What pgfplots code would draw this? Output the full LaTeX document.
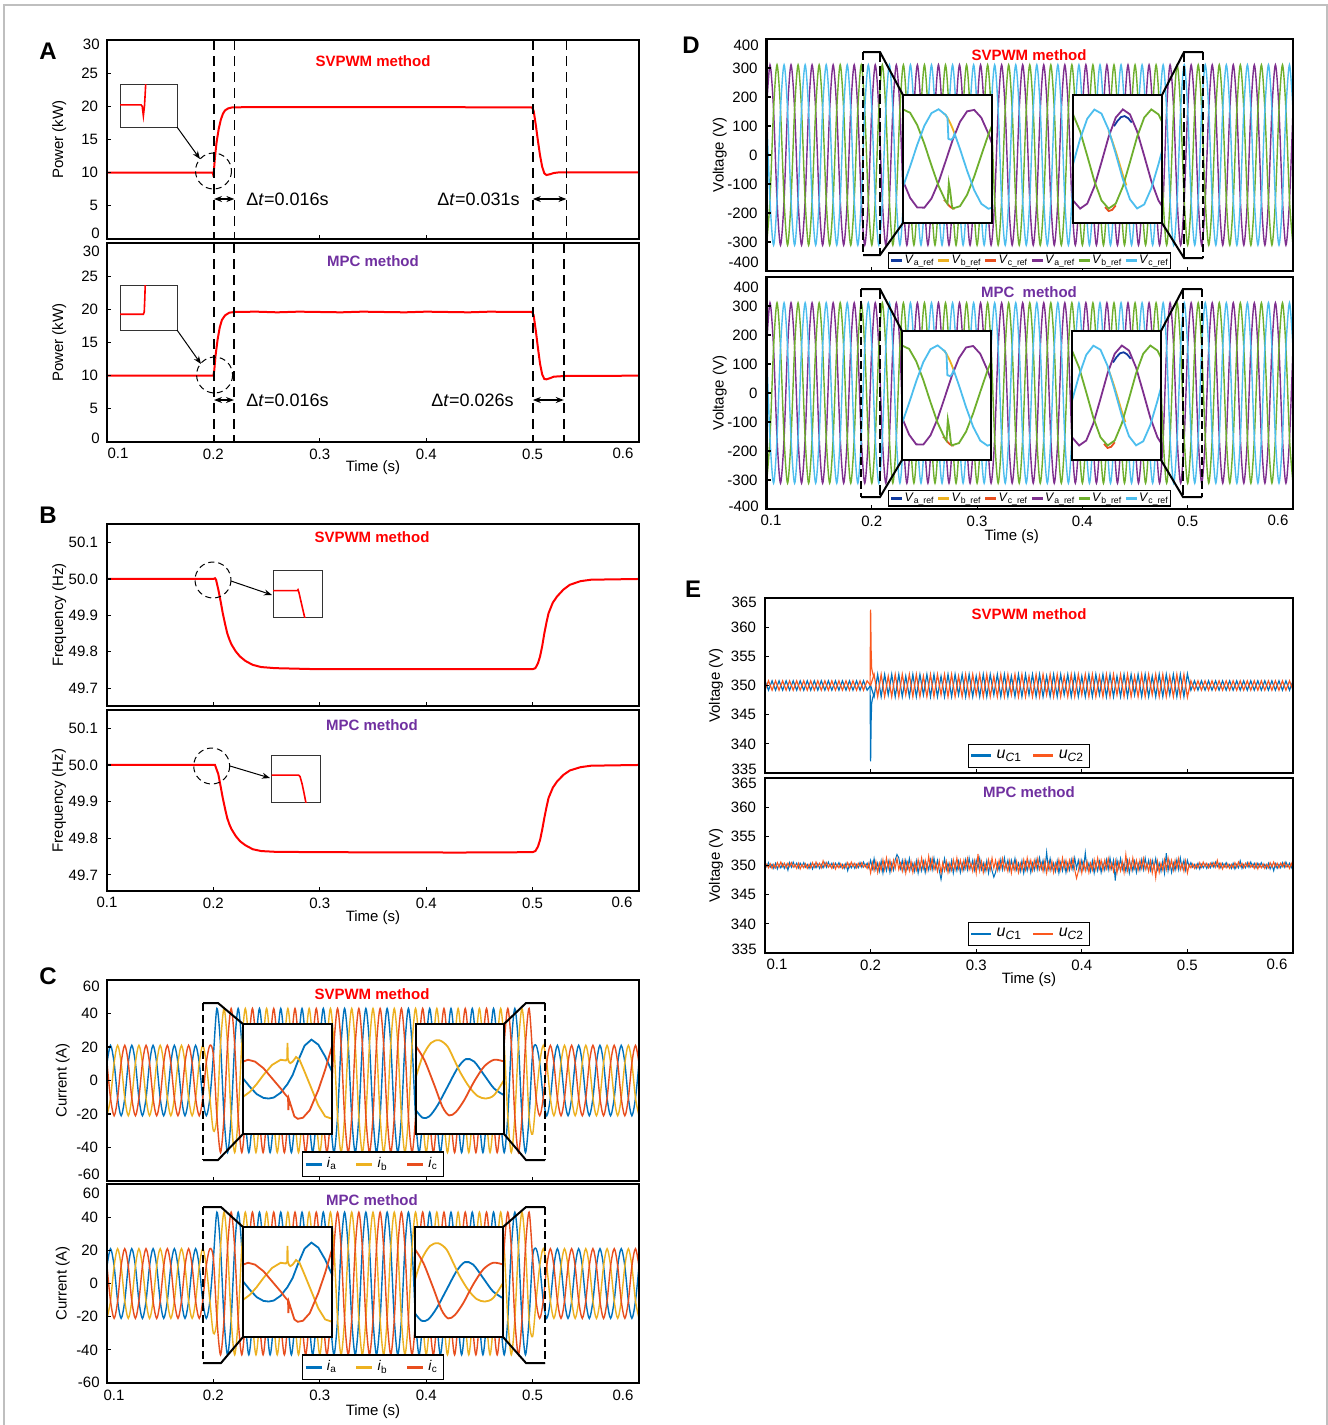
\documentclass[border=0pt]{standalone}
\usepackage{fontspec}
\setmainfont{Liberation Sans}
\usepackage{pgfplots}
\usepackage{pgfplotstable}
\pgfplotsset{compat=1.18}
\usetikzlibrary{arrows.meta}

\definecolor{ca}{RGB}{0,114,189}
\definecolor{cb}{RGB}{237,177,32}
\definecolor{cc}{RGB}{232,78,30}
\definecolor{vdb}{RGB}{16,58,160}
\definecolor{vpu}{RGB}{126,47,142}
\definecolor{vgr}{RGB}{110,175,45}
\definecolor{vcy}{RGB}{77,190,238}
\definecolor{eor}{RGB}{250,88,30}
\definecolor{mpc}{RGB}{112,48,160}

\newcommand\tk{\fontsize{7.5}{9}\selectfont}

% t: time, ia..ic currents (C), va..vc voltages (D), e1 e2 capacitor voltages SVPWM (E)
\pgfplotstableread{
t ia ib ic va vb vc e1 e2
0.1000 10.5 -21 10.5 156 -311 156 350.8 349.2
0.1033 21 -10.5 -10.5 311 -156 -156 349.2 350.8
0.1067 10.5 10.5 -21 156 156 -311 350.8 349.2
0.1100 -10.5 21 -10.5 -156 311 -156 349.2 350.8
0.1133 -21 10.5 10.5 -311 156 156 350.8 349.2
0.1167 -10.5 -10.5 21 -156 -156 311 349.2 350.8
0.1200 10.5 -21 10.5 156 -311 156 350.8 349.2
0.1233 21 -10.5 -10.5 311 -156 -156 349.2 350.8
0.1267 10.5 10.5 -21 156 156 -311 350.8 349.2
0.1300 -10.5 21 -10.5 -156 311 -156 349.2 350.8
0.1333 -21 10.5 10.5 -311 156 156 350.8 349.2
0.1367 -10.5 -10.5 21 -156 -156 311 349.2 350.8
0.1400 10.5 -21 10.5 156 -311 156 350.8 349.2
0.1433 21 -10.5 -10.5 311 -156 -156 349.2 350.8
0.1467 10.5 10.5 -21 156 156 -311 350.8 349.2
0.1500 -10.5 21 -10.5 -156 311 -156 349.2 350.8
0.1533 -21 10.5 10.5 -311 156 156 350.8 349.2
0.1567 -10.5 -10.5 21 -156 -156 311 349.2 350.8
0.1600 10.5 -21 10.5 156 -311 156 350.8 349.2
0.1633 21 -10.5 -10.5 311 -156 -156 349.2 350.8
0.1667 10.5 10.5 -21 156 156 -311 350.8 349.2
0.1700 -10.5 21 -10.5 -156 311 -156 349.2 350.8
0.1733 -21 10.5 10.5 -311 156 156 350.8 349.2
0.1767 -10.5 -10.5 21 -156 -156 311 349.2 350.8
0.1800 10.5 -21 10.5 156 -311 156 350.8 349.2
0.1833 21 -10.5 -10.5 311 -156 -156 349.2 350.8
0.1867 10.5 10.5 -21 156 156 -311 350.8 349.2
0.1900 -10.5 21 -10.5 -156 311 -156 349.2 350.8
0.1933 -21 10.5 10.5 -311 156 156 350.8 349.2
0.1967 -10.5 -10.5 21 -156 -156 311 349.2 350.8
0.2000 15 -30 15 156 -311 156 350 350
0.2033 43 -21.5 -21.5 311 -156 -156 348.1 351.9
0.2067 21.5 21.5 -43 156 156 -311 351.9 348.1
0.2100 -21.5 43 -21.5 -156 311 -156 348.1 351.9
0.2133 -43 21.5 21.5 -311 156 156 351.9 348.1
0.2167 -21.5 -21.5 43 -156 -156 311 348.4 351.6
0.2200 21.5 -43 21.5 156 -311 156 351.9 348.1
0.2233 43 -21.5 -21.5 311 -156 -156 348.1 351.9
0.2267 21.5 21.5 -43 156 156 -311 351.9 348.1
0.2300 -21.5 43 -21.5 -156 311 -156 348.1 351.9
0.2333 -43 21.5 21.5 -311 156 156 351.6 348.4
0.2367 -21.5 -21.5 43 -156 -156 311 348.1 351.9
0.2400 21.5 -43 21.5 156 -311 156 351.9 348.1
0.2433 43 -21.5 -21.5 311 -156 -156 348.1 351.9
0.2467 21.5 21.5 -43 156 156 -311 351.9 348.1
0.2500 -21.5 43 -21.5 -156 311 -156 348.4 351.6
0.2533 -43 21.5 21.5 -311 156 156 351.9 348.1
0.2567 -21.5 -21.5 43 -156 -156 311 348.1 351.9
0.2600 21.5 -43 21.5 156 -311 156 351.9 348.1
0.2633 43 -21.5 -21.5 311 -156 -156 348.1 351.9
0.2667 21.5 21.5 -43 156 156 -311 351.6 348.4
0.2700 -21.5 43 -21.5 -156 311 -156 348.1 351.9
0.2733 -43 21.5 21.5 -311 156 156 351.9 348.1
0.2767 -21.5 -21.5 43 -156 -156 311 348.1 351.9
0.2800 21.5 -43 21.5 156 -311 156 351.9 348.1
0.2833 43 -21.5 -21.5 311 -156 -156 348.4 351.6
0.2867 21.5 21.5 -43 156 156 -311 351.9 348.1
0.2900 -21.5 43 -21.5 -156 311 -156 348.1 351.9
0.2933 -43 21.5 21.5 -311 156 156 351.9 348.1
0.2967 -21.5 -21.5 43 -156 -156 311 348.1 351.9
0.3000 21.5 -43 21.5 156 -311 156 351.6 348.4
0.3033 43 -21.5 -21.5 311 -156 -156 348.1 351.9
0.3067 21.5 21.5 -43 156 156 -311 351.9 348.1
0.3100 -21.5 43 -21.5 -156 311 -156 348.1 351.9
0.3133 -43 21.5 21.5 -311 156 156 351.9 348.1
0.3167 -21.5 -21.5 43 -156 -156 311 348.4 351.6
0.3200 21.5 -43 21.5 156 -311 156 351.9 348.1
0.3233 43 -21.5 -21.5 311 -156 -156 348.1 351.9
0.3267 21.5 21.5 -43 156 156 -311 351.9 348.1
0.3300 -21.5 43 -21.5 -156 311 -156 348.1 351.9
0.3333 -43 21.5 21.5 -311 156 156 351.6 348.4
0.3367 -21.5 -21.5 43 -156 -156 311 348.1 351.9
0.3400 21.5 -43 21.5 156 -311 156 351.9 348.1
0.3433 43 -21.5 -21.5 311 -156 -156 348.1 351.9
0.3467 21.5 21.5 -43 156 156 -311 351.9 348.1
0.3500 -21.5 43 -21.5 -156 311 -156 348.4 351.6
0.3533 -43 21.5 21.5 -311 156 156 351.9 348.1
0.3567 -21.5 -21.5 43 -156 -156 311 348.1 351.9
0.3600 21.5 -43 21.5 156 -311 156 351.9 348.1
0.3633 43 -21.5 -21.5 311 -156 -156 348.1 351.9
0.3667 21.5 21.5 -43 156 156 -311 351.6 348.4
0.3700 -21.5 43 -21.5 -156 311 -156 348.1 351.9
0.3733 -43 21.5 21.5 -311 156 156 351.9 348.1
0.3767 -21.5 -21.5 43 -156 -156 311 348.1 351.9
0.3800 21.5 -43 21.5 156 -311 156 351.9 348.1
0.3833 43 -21.5 -21.5 311 -156 -156 348.4 351.6
0.3867 21.5 21.5 -43 156 156 -311 351.9 348.1
0.3900 -21.5 43 -21.5 -156 311 -156 348.1 351.9
0.3933 -43 21.5 21.5 -311 156 156 351.9 348.1
0.3967 -21.5 -21.5 43 -156 -156 311 348.1 351.9
0.4000 21.5 -43 21.5 156 -311 156 351.6 348.4
0.4033 43 -21.5 -21.5 311 -156 -156 348.1 351.9
0.4067 21.5 21.5 -43 156 156 -311 351.9 348.1
0.4100 -21.5 43 -21.5 -156 311 -156 348.1 351.9
0.4133 -43 21.5 21.5 -311 156 156 351.9 348.1
0.4167 -21.5 -21.5 43 -156 -156 311 348.4 351.6
0.4200 21.5 -43 21.5 156 -311 156 351.9 348.1
0.4233 43 -21.5 -21.5 311 -156 -156 348.1 351.9
0.4267 21.5 21.5 -43 156 156 -311 351.9 348.1
0.4300 -21.5 43 -21.5 -156 311 -156 348.1 351.9
0.4333 -43 21.5 21.5 -311 156 156 351.6 348.4
0.4367 -21.5 -21.5 43 -156 -156 311 348.1 351.9
0.4400 21.5 -43 21.5 156 -311 156 351.9 348.1
0.4433 43 -21.5 -21.5 311 -156 -156 348.1 351.9
0.4467 21.5 21.5 -43 156 156 -311 351.9 348.1
0.4500 -21.5 43 -21.5 -156 311 -156 348.4 351.6
0.4533 -43 21.5 21.5 -311 156 156 351.9 348.1
0.4567 -21.5 -21.5 43 -156 -156 311 348.1 351.9
0.4600 21.5 -43 21.5 156 -311 156 351.9 348.1
0.4633 43 -21.5 -21.5 311 -156 -156 348.1 351.9
0.4667 21.5 21.5 -43 156 156 -311 351.6 348.4
0.4700 -21.5 43 -21.5 -156 311 -156 348.1 351.9
0.4733 -43 21.5 21.5 -311 156 156 351.9 348.1
0.4767 -21.5 -21.5 43 -156 -156 311 348.1 351.9
0.4800 21.5 -43 21.5 156 -311 156 351.9 348.1
0.4833 43 -21.5 -21.5 311 -156 -156 348.4 351.6
0.4867 21.5 21.5 -43 156 156 -311 351.9 348.1
0.4900 -21.5 43 -21.5 -156 311 -156 348.1 351.9
0.4933 -43 21.5 21.5 -311 156 156 351.9 348.1
0.4967 -21.5 -21.5 43 -156 -156 311 348.1 351.9
0.5000 16 -32 16 156 -311 156 352.0 348.0
0.5033 21 -10.5 -10.5 311 -156 -156 349.2 350.8
0.5067 10.5 10.5 -21 156 156 -311 350.8 349.2
0.5100 -10.5 21 -10.5 -156 311 -156 349.2 350.8
0.5133 -21 10.5 10.5 -311 156 156 350.8 349.2
0.5167 -10.5 -10.5 21 -156 -156 311 349.2 350.8
0.5200 10.5 -21 10.5 156 -311 156 350.8 349.2
0.5233 21 -10.5 -10.5 311 -156 -156 349.2 350.8
0.5267 10.5 10.5 -21 156 156 -311 350.8 349.2
0.5300 -10.5 21 -10.5 -156 311 -156 349.2 350.8
0.5333 -21 10.5 10.5 -311 156 156 350.8 349.2
0.5367 -10.5 -10.5 21 -156 -156 311 349.2 350.8
0.5400 10.5 -21 10.5 156 -311 156 350.8 349.2
0.5433 21 -10.5 -10.5 311 -156 -156 349.2 350.8
0.5467 10.5 10.5 -21 156 156 -311 350.8 349.2
0.5500 -10.5 21 -10.5 -156 311 -156 349.2 350.8
0.5533 -21 10.5 10.5 -311 156 156 350.8 349.2
0.5567 -10.5 -10.5 21 -156 -156 311 349.2 350.8
0.5600 10.5 -21 10.5 156 -311 156 350.8 349.2
0.5633 21 -10.5 -10.5 311 -156 -156 349.2 350.8
0.5667 10.5 10.5 -21 156 156 -311 350.8 349.2
0.5700 -10.5 21 -10.5 -156 311 -156 349.2 350.8
0.5733 -21 10.5 10.5 -311 156 156 350.8 349.2
0.5767 -10.5 -10.5 21 -156 -156 311 349.2 350.8
0.5800 10.5 -21 10.5 156 -311 156 350.8 349.2
0.5833 21 -10.5 -10.5 311 -156 -156 349.2 350.8
0.5867 10.5 10.5 -21 156 156 -311 350.8 349.2
0.5900 -10.5 21 -10.5 -156 311 -156 349.2 350.8
0.5933 -21 10.5 10.5 -311 156 156 350.8 349.2
0.5967 -10.5 -10.5 21 -156 -156 311 349.2 350.8
0.6000 10.5 -21 10.5 156 -311 156 350.8 349.2
}\wave

% E, MPC: capacitor voltages n1 (uC1) and n2 (uC2)
\pgfplotstableread{
t n1 n2
0.1000 350.4 349.4
0.1017 349.8 350.2
0.1033 350.5 349.6
0.1050 349.7 350.3
0.1067 350.2 349.5
0.1083 349.5 350.2
0.1100 350.4 349.6
0.1117 349.4 350.5
0.1133 350.2 349.7
0.1150 349.6 350.6
0.1167 350.3 349.8
0.1183 349.5 350.4
0.1200 350.2 349.6
0.1217 349.2 350.4
0.1233 350.5 349.8
0.1250 349.7 350.5
0.1267 350.6 349.7
0.1283 349.8 350.2
0.1300 350.4 349.5
0.1317 349.6 350.4
0.1333 350.4 349.4
0.1350 349.8 350.2
0.1367 350.5 349.6
0.1383 349.7 350.3
0.1400 350.2 349.5
0.1417 349.5 350.2
0.1433 350.4 349.6
0.1450 349.4 350.5
0.1467 350.2 349.7
0.1483 349.6 350.6
0.1500 350.3 349.8
0.1517 349.5 350.4
0.1533 350.2 349.6
0.1550 349.6 350.8
0.1567 350.5 349.8
0.1583 349.7 350.5
0.1600 350.6 349.7
0.1617 349.8 350.2
0.1633 350.4 349.5
0.1650 349.6 350.4
0.1667 350.4 349.4
0.1683 349.8 350.2
0.1700 350.5 349.6
0.1717 349.7 350.3
0.1733 350.2 349.5
0.1750 349.5 350.2
0.1767 350.4 349.6
0.1783 349.1 350.5
0.1800 350.2 349.7
0.1817 349.6 350.6
0.1833 350.3 349.8
0.1850 349.5 350.4
0.1867 350.2 349.6
0.1883 349.6 350.4
0.1900 350.5 349.8
0.1917 349.7 350.5
0.1933 350.6 349.7
0.1950 349.8 350.2
0.1967 350.4 349.5
0.1983 349.6 350.4
0.2000 350.9 348.7
0.2017 349.5 350.5
0.2033 351.2 349.1
0.2050 349.3 350.7
0.2067 350.4 348.8
0.2083 349.0 350.4
0.2100 350.8 349.2
0.2117 348.7 351.0
0.2133 350.5 349.3
0.2150 349.1 351.3
0.2167 350.7 349.5
0.2183 348.8 350.9
0.2200 350.4 349.2
0.2217 349.2 350.9
0.2233 351.0 349.5
0.2250 351.9 351.2
0.2267 351.3 349.3
0.2283 349.5 350.4
0.2300 350.9 349.0
0.2317 349.2 350.8
0.2333 350.9 348.7
0.2350 349.5 350.5
0.2367 351.2 349.1
0.2383 349.3 350.7
0.2400 350.4 348.8
0.2417 349.0 350.4
0.2433 350.8 349.2
0.2450 348.7 351.0
0.2467 350.5 349.3
0.2483 349.1 351.3
0.2500 350.7 349.5
0.2517 348.8 350.9
0.2533 350.4 349.2
0.2550 349.2 351.6
0.2567 351.0 349.5
0.2583 349.3 351.2
0.2600 351.3 349.3
0.2617 349.5 350.4
0.2633 350.9 349.0
0.2650 349.2 350.8
0.2667 347.6 348.7
0.2683 349.5 350.5
0.2700 351.2 349.1
0.2717 349.3 350.7
0.2733 350.4 348.8
0.2750 349.0 350.4
0.2767 350.8 349.2
0.2783 348.7 351.0
0.2800 350.5 349.3
0.2817 349.1 351.3
0.2833 350.7 349.5
0.2850 348.8 350.9
0.2867 350.4 349.2
0.2883 349.2 350.9
0.2900 351.0 349.5
0.2917 349.3 351.2
0.2933 351.3 349.3
0.2950 349.5 350.4
0.2967 350.9 349.0
0.2983 349.2 350.8
0.3000 350.9 348.7
0.3017 349.5 352.0
0.3033 351.2 349.1
0.3050 349.3 350.7
0.3067 350.4 348.8
0.3083 349.0 350.4
0.3100 350.8 349.2
0.3117 348.7 351.0
0.3133 350.5 349.3
0.3150 349.1 351.3
0.3167 348.0 349.5
0.3183 348.8 350.9
0.3200 350.4 349.2
0.3217 349.2 350.9
0.3233 351.0 349.5
0.3250 349.3 351.2
0.3267 351.3 349.3
0.3283 349.5 350.4
0.3300 350.9 349.0
0.3317 349.2 350.8
0.3333 350.9 348.7
0.3350 349.5 350.5
0.3367 351.2 349.1
0.3383 349.3 350.7
0.3400 350.4 348.8
0.3417 349.0 350.4
0.3433 350.8 349.2
0.3450 348.7 351.0
0.3467 350.5 349.3
0.3483 349.1 351.3
0.3500 350.7 349.5
0.3517 348.8 350.9
0.3533 350.4 349.2
0.3550 349.2 350.9
0.3567 351.0 349.5
0.3583 349.3 351.2
0.3600 351.3 349.3
0.3617 349.5 350.4
0.3633 350.9 349.0
0.3650 349.2 350.8
0.3667 352.3 348.7
0.3683 349.5 350.5
0.3700 351.2 349.1
0.3717 349.3 350.7
0.3733 350.4 348.8
0.3750 349.0 350.4
0.3767 350.8 349.2
0.3783 348.7 351.0
0.3800 350.5 349.3
0.3817 349.1 351.3
0.3833 350.7 349.5
0.3850 348.8 350.9
0.3867 350.4 349.2
0.3883 349.2 350.9
0.3900 351.0 349.5
0.3917 349.3 351.2
0.3933 351.3 349.3
0.3950 349.5 347.8
0.3967 350.9 349.0
0.3983 349.2 350.8
0.4000 350.9 348.7
0.4017 349.5 350.5
0.4033 352.2 349.1
0.4050 349.3 350.7
0.4067 350.4 348.8
0.4083 349.0 350.4
0.4100 350.8 349.2
0.4117 348.7 351.0
0.4133 350.5 349.3
0.4150 349.1 351.3
0.4167 350.7 349.5
0.4183 348.8 350.9
0.4200 350.4 349.2
0.4217 349.2 350.9
0.4233 351.0 349.5
0.4250 349.3 351.2
0.4267 351.3 349.3
0.4283 349.5 350.4
0.4300 350.9 349.0
0.4317 347.4 350.8
0.4333 350.9 348.7
0.4350 349.5 350.5
0.4367 351.2 349.1
0.4383 349.3 350.7
0.4400 350.4 348.8
0.4417 349.0 351.9
0.4433 350.8 349.2
0.4450 348.7 351.0
0.4467 350.5 349.3
0.4483 349.1 351.3
0.4500 350.7 349.5
0.4517 348.8 350.9
0.4533 350.4 349.2
0.4550 349.2 350.9
0.4567 351.0 349.5
0.4583 349.3 351.2
0.4600 351.3 349.3
0.4617 349.5 350.4
0.4633 350.9 349.0
0.4650 349.2 350.8
0.4667 350.9 348.7
0.4683 349.5 350.5
0.4700 351.2 347.9
0.4717 349.3 350.7
0.4733 350.4 348.8
0.4750 349.0 350.4
0.4767 350.8 349.2
0.4783 348.7 351.0
0.4800 352.1 349.3
0.4817 349.1 351.3
0.4833 350.7 349.5
0.4850 348.8 350.9
0.4867 350.4 349.2
0.4883 349.2 350.9
0.4900 351.0 349.5
0.4917 349.3 351.2
0.4933 351.3 349.3
0.4950 349.5 350.4
0.4967 350.9 349.0
0.4983 349.2 350.8
0.5000 350.9 348.7
0.5017 349.8 350.2
0.5033 350.5 349.6
0.5050 349.7 350.3
0.5067 350.2 349.5
0.5083 349.5 350.2
0.5100 350.4 349.6
0.5117 349.4 350.5
0.5133 350.2 349.7
0.5150 349.6 350.6
0.5167 350.3 349.8
0.5183 349.5 350.4
0.5200 350.2 349.6
0.5217 349.6 350.4
0.5233 350.5 349.8
0.5250 349.7 350.5
0.5267 350.6 349.7
0.5283 349.8 350.9
0.5300 350.4 349.5
0.5317 349.6 350.4
0.5333 350.4 349.4
0.5350 349.8 350.2
0.5367 350.5 349.6
0.5383 349.7 350.3
0.5400 350.2 349.5
0.5417 349.5 350.2
0.5433 350.4 349.6
0.5450 349.4 350.5
0.5467 350.2 349.7
0.5483 349.6 350.6
0.5500 350.8 349.8
0.5517 349.5 350.4
0.5533 350.2 349.6
0.5550 349.6 350.4
0.5567 350.5 349.8
0.5583 349.7 350.5
0.5600 350.6 349.7
0.5617 349.8 350.2
0.5633 350.4 349.5
0.5650 349.6 350.4
0.5667 350.4 349.4
0.5683 349.8 350.2
0.5700 350.5 349.6
0.5717 349.7 350.3
0.5733 350.2 349.5
0.5750 349.5 350.2
0.5767 350.4 349.6
0.5783 349.4 350.5
0.5800 350.2 349.7
0.5817 349.1 350.6
0.5833 350.3 349.8
0.5850 349.5 350.4
0.5867 350.2 349.6
0.5883 349.6 350.4
0.5900 350.5 349.8
0.5917 349.7 350.5
0.5933 350.6 349.7
0.5950 349.8 350.2
0.5967 350.4 349.5
0.5983 349.6 350.4
0.6000 350.4 349.4
}\noise

% zoomed windows of C (x in % of the window, y in A)
\pgfplotstableread[row sep=\\]{x y\\0 0.7\\7.7 -8.5\\15.4 -16.5\\23 -20.6\\28.8 -21.3\\34.6 -20.2\\42.3 -15\\50 -5.5\\55.8 4.4\\61.5 19\\69.2 36.4\\76.9 43\\84.6 37.5\\92.3 24.6\\100 8.1\\}\ciA
\pgfplotstableread[row sep=\\]{x y\\0 -19.5\\7.7 -14\\15.4 -5.5\\23 4.4\\32.7 15.4\\42.3 21\\48.1 20.2\\49.6 22\\50 39.3\\50.4 22\\51.5 19\\53.1 17.3\\55.8 19\\59.6 24\\63.5 21\\69.2 8\\76.9 -10.3\\84.6 -28.7\\92.3 -40.8\\100 -43.4\\}\ciB
\pgfplotstableread[row sep=\\]{x y\\0 19\\5.8 21\\13.5 19\\23 11.8\\32.7 0.7\\42.3 -10.3\\48.1 -17.6\\50.6 -20.2\\51 -34\\51.6 -22\\53.8 -28.7\\57.7 -40.8\\61.5 -43.4\\67.3 -42.3\\75 -34\\84.6 -12\\92.3 10\\100 35.6\\}\ciC
\pgfplotstableread[row sep=\\]{x y\\0 -34.2\\7.5 -42.3\\15.1 -40.8\\24.5 -28.7\\35.8 -8.5\\47.2 11.8\\56.6 21.7\\66 19.1\\77.4 4.4\\88.7 -10.3\\100 -17.6\\}\ciiA
\pgfplotstableread[row sep=\\]{x y\\0 2.6\\7.5 24.6\\17 39.3\\26.4 42.3\\35.8 35.6\\43.4 21\\50.9 6.2\\60.4 -8.5\\69.8 -18.4\\79.2 -21.3\\88.7 -17.6\\100 -1.1\\}\ciiB
\pgfplotstableread[row sep=\\]{x y\\0 35.6\\9.4 21\\20.8 -6.6\\30.2 -30.5\\37.7 -39.7\\45.3 -36\\54.7 -23.2\\66 -2.9\\77.4 13.6\\88.7 21\\100 19.1\\}\ciiC

% zoomed windows of D (y in V)
\pgfplotstableread[row sep=\\]{x y\\0 310\\8 289\\16 212\\24 95\\32 -41\\40 -169\\48 -264\\50 -280\\51.5 -150\\53 -200\\55 -295\\56 -309\\64 -295\\72 -224\\80 -110\\88 24\\96 154\\100 209\\}\diG
\pgfplotstableread[row sep=\\]{x y\\0 -173\\8 -46\\16 89\\24 208\\32 287\\40 311\\48 275\\50 257\\51 126\\54 120\\56 130\\58 158\\64 63\\72 -73\\80 -195\\88 -280\\96 -311\\100 -304\\}\diC
\pgfplotstableread[row sep=\\]{x y\\0 -137\\8 -243\\16 -303\\24 -304\\32 -247\\40 -144\\48 -12\\56 122\\64 232\\72 298\\80 307\\88 258\\96 158\\100 96\\}\diP
\pgfplotstableread[row sep=\\]{x y\\46 284\\48 275\\50 257\\52 237\\54 213\\56 187\\58 158\\}\diY
\pgfplotstableread[row sep=\\]{x y\\46 -255\\48 -264\\50 -280\\52 -293\\54 -303\\56 -309\\58 -311\\}\diO
\pgfplotstableread[row sep=\\]{x y\\0 -33\\8 126\\16 252\\24 309\\32 284\\40 183\\48 33\\56 -126\\64 -252\\72 -309\\80 -284\\88 -183\\96 -33\\100 49\\}\diiC
\pgfplotstableread[row sep=\\]{x y\\0 -259\\8 -310\\16 -279\\24 -173\\32 -20\\40 138\\48 259\\56 310\\64 279\\72 173\\80 20\\88 -138\\96 -259\\100 -294\\}\diiP
\pgfplotstableread[row sep=\\]{x y\\0 279\\8 173\\16 20\\24 -138\\32 -259\\40 -310\\48 -279\\56 -173\\64 -20\\72 138\\80 259\\88 310\\96 279\\100 234\\}\diiG
\pgfplotstableread[row sep=\\]{x y\\46 205\\50 238\\54 262\\58 268\\62 255\\66 228\\}\diiB
\pgfplotstableread[row sep=\\]{x y\\40 175\\44 115\\48 48\\52 -25\\56 -100\\60 -165\\}\diiY
\pgfplotstableread[row sep=\\]{x y\\36 -300\\40 -325\\44 -318\\48 -290\\}\diiO

\pgfplotsset{
  /pgf/number format/assume math mode=true,
  panel/.style={scale only axis, width=266pt, anchor=north west,
    xmin=0.1, xmax=0.6, xtick={0.2,0.3,0.4,0.5},
    tick pos=left, tick align=inside, major tick length=2.2pt,
    every tick/.style={black, line width=0.6pt},
    axis line style={line width=1.4pt}, axis on top,
    tick label style={font=\tk}, yticklabel style={xshift=-1pt},
    label style={font=\tk},
    xlabel style={at={(axis description cs:0.5,0)}, anchor=center, yshift=-13.5pt}},
  ylab/.style={ylabel style={at={(axis description cs:#1,0.5)}, anchor=center}},
  inset/.style={scale only axis, anchor=north west, xmin=0, xmax=100,
    xtick=\empty, ytick=\empty, axis background/.style={fill=white},
    axis line style={line width=0.9pt}, axis on top},
  small/.style={scale only axis, anchor=north west, xmin=0, xmax=1, ymin=0, ymax=1,
    xtick=\empty, ytick=\empty, axis background/.style={fill=white},
    axis line style={line width=0.5pt, black!80}},
  clg/.style={legend style={at={(0.5,#1)}, anchor=south, legend columns=3, draw=black,
    line width=0.6pt, font=\fontsize{7}{8}\selectfont, inner sep=0.8pt,
    /tikz/every even column/.append style={column sep=7pt}},
    legend image post style={line width=1.4pt},
    legend image code/.code={\draw[##1] (0pt,0pt) -- (8pt,0pt);}},
  dlg/.style={legend style={at={(0.5,#1)}, anchor=south, legend columns=6, draw=black,
    line width=0.6pt, font=\fontsize{6.2}{7}\selectfont, inner sep=0.5pt,
    nodes={inner sep=0.5pt},
    /tikz/every even column/.append style={column sep=0.6pt}},
    legend image post style={line width=1.4pt},
    legend image code/.code={\draw[##1] (0pt,0pt) -- (5.5pt,0pt);}},
  elg/.style={legend style={at={(0.5,#1)}, anchor=south, legend columns=2, draw=black,
    line width=0.6pt, font=\fontsize{8}{9}\selectfont, inner sep=0.8pt,
    /tikz/every even column/.append style={column sep=3pt}},
    legend image post style={line width=1.4pt},
    legend image code/.code={\draw[##1] (0pt,0pt) -- (10pt,0pt);}},
}

\begin{document}
\begin{tikzpicture}
\useasboundingbox (0,0) rectangle (664pt,-712.5pt);
\fill[white] (0,0) rectangle (664pt,-712.5pt);

% ---------------- A ----------------
\begin{axis}[panel, at={(53.5pt,-20pt)}, height=99.5pt, ymin=0, ymax=30,
  ytick={5,10,15,20,25}, xticklabels=\empty, ylab=-0.09, ylabel={Power (kW)}]
\addplot[red, line width=1pt] coordinates {(0.1,10) (0.199,10) (0.1998,9.8) (0.2,9.4) (0.2006,10.6) (0.2015,12.4) (0.203,14.6) (0.205,16.6) (0.207,18) (0.209,18.9) (0.211,19.4) (0.214,19.7) (0.218,19.85) (0.25,19.9) (0.35,19.88) (0.45,19.86) (0.4995,19.85) (0.501,19.3) (0.503,17.2) (0.505,14.8) (0.507,12.6) (0.509,10.9) (0.511,9.9) (0.513,9.65) (0.516,9.75) (0.52,9.95) (0.525,10.05) (0.54,10.05) (0.6,10.05)};
\end{axis}
\begin{axis}[panel, at={(53.5pt,-121.5pt)}, height=99.5pt, ymin=0, ymax=30,
  ytick={5,10,15,20,25}, ylab=-0.09, ylabel={Power (kW)}, xlabel={Time (s)}, xlabel style={yshift=0.5pt}]
\addplot[red, line width=1pt] coordinates {(0.1,10) (0.1995,10) (0.2,10) (0.2008,10.8) (0.202,13) (0.204,15.5) (0.206,17.3) (0.208,18.4) (0.211,19.1) (0.215,19.5) (0.22,19.6) (0.24,19.65) (0.26,19.55) (0.28,19.65) (0.3,19.6) (0.32,19.55) (0.34,19.65) (0.36,19.6) (0.38,19.55) (0.4,19.65) (0.42,19.6) (0.44,19.55) (0.46,19.65) (0.48,19.6) (0.4995,19.6) (0.501,19.1) (0.503,16.8) (0.505,14.2) (0.507,11.8) (0.509,10.2) (0.511,9.5) (0.513,9.45) (0.516,9.6) (0.52,9.85) (0.53,9.95) (0.6,10)};
\end{axis}

% ---------------- B ----------------
\begin{axis}[panel, at={(53.5pt,-262pt)}, height=91pt, ymin=49.651, ymax=50.151,
  ytick={49.7,49.8,49.9,50.0,50.1}, yticklabel style={/pgf/number format/.cd, fixed, fixed zerofill, precision=1},
  xticklabels=\empty, ylab=-0.09, ylabel={Frequency (Hz)}]
\addplot[red, line width=1pt] coordinates {(0.1,50) (0.2,50) (0.2015,50.002) (0.2025,49.998) (0.2046,49.971) (0.2067,49.94) (0.2088,49.906) (0.211,49.876) (0.213,49.851) (0.215,49.834) (0.217,49.82) (0.221,49.801) (0.225,49.787) (0.23,49.775) (0.237,49.764) (0.245,49.758) (0.258,49.755) (0.3,49.752) (0.5,49.752) (0.5026,49.755) (0.505,49.768) (0.507,49.787) (0.509,49.815) (0.511,49.85) (0.513,49.88) (0.515,49.906) (0.519,49.935) (0.523,49.952) (0.529,49.971) (0.535,49.984) (0.545,49.994) (0.555,49.998) (0.6,50)};
\end{axis}
\begin{axis}[panel, at={(53.5pt,-355pt)}, height=90.5pt, ymin=49.656, ymax=50.150,
  ytick={49.7,49.8,49.9,50.0,50.1}, yticklabel style={/pgf/number format/.cd, fixed, fixed zerofill, precision=1},
  ylab=-0.09, ylabel={Frequency (Hz)}, xlabel={Time (s)}]
\addplot[red, line width=1pt] coordinates {(0.1,50) (0.2,50) (0.2015,50) (0.2046,49.975) (0.2067,49.943) (0.2088,49.91) (0.211,49.88) (0.213,49.855) (0.215,49.838) (0.217,49.825) (0.221,49.806) (0.225,49.792) (0.23,49.781) (0.237,49.77) (0.245,49.765) (0.258,49.763) (0.3,49.762) (0.43,49.761) (0.5,49.762) (0.5026,49.765) (0.505,49.777) (0.507,49.795) (0.509,49.823) (0.511,49.855) (0.513,49.884) (0.515,49.91) (0.519,49.938) (0.523,49.955) (0.529,49.973) (0.535,49.985) (0.545,49.994) (0.555,49.998) (0.6,50)};
\end{axis}

% ---------------- C ----------------
\begin{axis}[panel, at={(53.5pt,-490pt)}, height=100.5pt, ymin=-60, ymax=60,
  ytick={-40,-20,0,20,40}, xticklabels=\empty, ylab=-0.083, ylabel={Current (A)}, clg=0.02]
\addplot[ca, line width=0.7pt, smooth] table[x=t,y=ia] {\wave};
\addlegendentry{\textit{i}\textsubscript{a}}
\addplot[cb, line width=0.7pt, smooth] table[x=t,y=ib] {\wave};
\addlegendentry{\textit{i}\textsubscript{b}}
\addplot[cc, line width=0.7pt, smooth] table[x=t,y=ic] {\wave};
\addlegendentry{\textit{i}\textsubscript{c}}
\end{axis}
\begin{axis}[panel, at={(53.5pt,-592pt)}, height=99.5pt, ymin=-60, ymax=60,
  ytick={-40,-20,0,20,40}, ylab=-0.083, ylabel={Current (A)}, clg=0.015,
  xlabel={Time (s)}, xlabel style={yshift=-1pt}]
\addplot[ca, line width=0.7pt, smooth] table[x=t,y=ia] {\wave};
\addlegendentry{\textit{i}\textsubscript{a}}
\addplot[cb, line width=0.7pt, smooth] table[x=t,y=ib] {\wave};
\addlegendentry{\textit{i}\textsubscript{b}}
\addplot[cc, line width=0.7pt, smooth] table[x=t,y=ic] {\wave};
\addlegendentry{\textit{i}\textsubscript{c}}
\end{axis}

% ---------------- D ----------------
\begin{axis}[panel, width=263.25pt, at={(383.25pt,-19.5pt)}, height=116pt, ymin=-400, ymax=400,
  ytick={-300,-200,-100,0,100,200,300}, xticklabels=\empty, ylab=-0.089, ylabel={Voltage (V)}, dlg=0.008]
\addlegendimage{vdb}\addlegendentry{\textit{V}\textsubscript{a\_ref}}
\addlegendimage{cb}\addlegendentry{\textit{V}\textsubscript{b\_ref}}
\addlegendimage{cc}\addlegendentry{\textit{V}\textsubscript{c\_ref}}
\addplot[vpu, line width=0.7pt, smooth] table[x=t,y=va] {\wave};
\addlegendentry{\textit{V}\textsubscript{a\_ref}}
\addplot[vgr, line width=0.7pt, smooth] table[x=t,y=vb] {\wave};
\addlegendentry{\textit{V}\textsubscript{b\_ref}}
\addplot[vcy, line width=0.7pt, smooth] table[x=t,y=vc] {\wave};
\addlegendentry{\textit{V}\textsubscript{c\_ref}}
\end{axis}
\begin{axis}[panel, width=263.25pt, at={(383.25pt,-138.5pt)}, height=116pt, ymin=-400, ymax=400,
  ytick={-300,-200,-100,0,100,200,300}, ylab=-0.089, ylabel={Voltage (V)}, dlg=0.01,
  xlabel={Time (s)}, xlabel style={xshift=-9pt, yshift=-0.5pt}]
\addlegendimage{vdb}\addlegendentry{\textit{V}\textsubscript{a\_ref}}
\addlegendimage{cb}\addlegendentry{\textit{V}\textsubscript{b\_ref}}
\addlegendimage{cc}\addlegendentry{\textit{V}\textsubscript{c\_ref}}
\addplot[vpu, line width=0.7pt, smooth] table[x=t,y=va] {\wave};
\addlegendentry{\textit{V}\textsubscript{a\_ref}}
\addplot[vgr, line width=0.7pt, smooth] table[x=t,y=vb] {\wave};
\addlegendentry{\textit{V}\textsubscript{b\_ref}}
\addplot[vcy, line width=0.7pt, smooth] table[x=t,y=vc] {\wave};
\addlegendentry{\textit{V}\textsubscript{c\_ref}}
\end{axis}

% ---------------- E ----------------
\begin{axis}[panel, width=264pt, at={(382.5pt,-299pt)}, height=87.5pt, ymin=335, ymax=365,
  ytick={340,345,350,355,360}, xticklabels=\empty, ylab=-0.093, ylabel={Voltage (V)}, elg=0.03]
\addplot[ca, line width=0.6pt] table[x=t,y=e1] {\wave};
\addlegendentry{\textit{u}\textsubscript{\textit{C}1}}
\addplot[eor, line width=0.6pt] table[x=t,y=e2] {\wave};
\addlegendentry{\textit{u}\textsubscript{\textit{C}2}}
\addplot[ca, line width=0.6pt, forget plot] coordinates {(0.1995,350) (0.2,337) (0.2005,344) (0.201,347) (0.2015,347.5) (0.2025,348.2) (0.2035,348.1)};
\addplot[eor, line width=0.6pt, forget plot] coordinates {(0.1995,350) (0.2,363) (0.2005,356) (0.201,353) (0.2015,352.5) (0.2025,351.8) (0.2035,351.9)};
\end{axis}
\begin{axis}[panel, width=264pt, at={(382.5pt,-389pt)}, height=87.5pt, ymin=335, ymax=365,
  ytick={340,345,350,355,360}, ylab=-0.093, ylabel={Voltage (V)}, elg=0.04, xlabel={Time (s)}]
\addplot[ca, line width=0.5pt] table[x=t,y=n1] {\noise};
\addlegendentry{\textit{u}\textsubscript{\textit{C}1}}
\addplot[eor, line width=0.5pt] table[x=t,y=n2] {\noise};
\addlegendentry{\textit{u}\textsubscript{\textit{C}2}}
\end{axis}

% ---------------- zoom windows ----------------
\begin{axis}[small, at={(60pt,-42pt)}, width=28.5pt, height=21.5pt]
\addplot[red, line width=0.8pt] coordinates {(0,0.515) (0.37,0.515) (0.39,0.48) (0.41,0.26) (0.43,0.5) (0.445,0.85) (0.455,1.1)};
\end{axis}
\begin{axis}[small, at={(60pt,-142.5pt)}, width=28.5pt, height=22.5pt]
\addplot[red, line width=0.8pt] coordinates {(0,0.35) (0.41,0.35) (0.425,0.4) (0.435,0.7) (0.445,1.1)};
\end{axis}
\begin{axis}[small, at={(136.5pt,-285pt)}, width=24.5pt, height=23.5pt]
\addplot[red, line width=0.8pt] coordinates {(0,0.56) (0.48,0.56) (0.5,0.565) (0.51,0.58) (0.53,0.52) (0.56,0.38) (0.6,0.2) (0.64,0.02) (0.66,-0.05)};
\end{axis}
\begin{axis}[small, at={(135.75pt,-377.85pt)}, width=24.6pt, height=23.15pt]
\addplot[red, line width=0.8pt] coordinates {(0,0.58) (0.55,0.58) (0.58,0.55) (0.62,0.4) (0.66,0.2) (0.7,-0.02)};
\end{axis}

\begin{axis}[inset, at={(121.5pt,-512pt)}, width=44.5pt, height=55pt, ymin=-60, ymax=60]
\addplot[ca, line width=0.9pt] table {\ciA};
\addplot[cb, line width=0.9pt] table {\ciB};
\addplot[cc, line width=0.9pt] table {\ciC};
\end{axis}
\begin{axis}[inset, at={(208pt,-512pt)}, width=44pt, height=55pt, ymin=-60, ymax=60]
\addplot[ca, line width=0.9pt, smooth] table {\ciiA};
\addplot[cb, line width=0.9pt, smooth] table {\ciiB};
\addplot[cc, line width=0.9pt, smooth] table {\ciiC};
\end{axis}
\begin{axis}[inset, at={(121.5pt,-613.5pt)}, width=44.5pt, height=55pt, ymin=-60, ymax=60]
\addplot[ca, line width=0.9pt] table {\ciA};
\addplot[cb, line width=0.9pt] table {\ciB};
\addplot[cc, line width=0.9pt] table {\ciC};
\end{axis}
\begin{axis}[inset, at={(207.5pt,-613.5pt)}, width=44pt, height=55pt, ymin=-60, ymax=60]
\addplot[ca, line width=0.9pt, smooth] table {\ciiA};
\addplot[cb, line width=0.9pt, smooth] table {\ciiB};
\addplot[cc, line width=0.9pt, smooth] table {\ciiC};
\end{axis}

\begin{axis}[inset, at={(451.5pt,-47.5pt)}, width=44.5pt, height=64pt, ymin=-400, ymax=400]
\addplot[cb, line width=0.9pt] table {\diY};
\addplot[cc, line width=0.9pt] table {\diO};
\addplot[vpu, line width=0.9pt] table {\diP};
\addplot[vgr, line width=0.9pt] table {\diG};
\addplot[vcy, line width=0.9pt] table {\diC};
\end{axis}
\begin{axis}[inset, at={(536.5pt,-47.5pt)}, width=44.5pt, height=64pt, ymin=-400, ymax=400]
\addplot[cb, line width=0.9pt] table {\diiY};
\addplot[cc, line width=0.9pt] table {\diiO};
\addplot[vdb, line width=0.9pt] table {\diiB};
\addplot[vpu, line width=0.9pt] table {\diiP};
\addplot[vgr, line width=0.9pt] table {\diiG};
\addplot[vcy, line width=0.9pt] table {\diiC};
\end{axis}
\begin{axis}[inset, at={(451pt,-165.5pt)}, width=44.5pt, height=64.5pt, ymin=-400, ymax=400]
\addplot[cb, line width=0.9pt] table {\diY};
\addplot[cc, line width=0.9pt] table {\diO};
\addplot[vpu, line width=0.9pt] table {\diP};
\addplot[vgr, line width=0.9pt] table {\diG};
\addplot[vcy, line width=0.9pt] table {\diC};
\end{axis}
\begin{axis}[inset, at={(536pt,-165.5pt)}, width=44.5pt, height=64.5pt, ymin=-400, ymax=400]
\addplot[cb, line width=0.9pt] table {\diiY};
\addplot[cc, line width=0.9pt] table {\diiO};
\addplot[vdb, line width=0.9pt] table {\diiB};
\addplot[vpu, line width=0.9pt] table {\diiP};
\addplot[vgr, line width=0.9pt] table {\diiG};
\addplot[vcy, line width=0.9pt] table {\diiC};
\end{axis}

% ---------------- annotations (pixel grid of the figure) ----------------
\begin{scope}[x=0.5pt, y=-0.5pt]
\draw[black!25, line width=0.8pt] (4,1425) -- (4,5) -- (1327,5) -- (1327,1425);

% panel letters
\foreach \l/\px/\py in {A/48/51, B/48/515, C/48/976, D/691/45, E/693/589}
  \node[font=\bfseries\fontsize{12}{14}\selectfont] at (\px,\py) {\l};

% titles
\tikzset{ttl/.style={font=\bfseries\fontsize{7.5}{9}\selectfont}}
\node[ttl, text=red] at (373,61) {SVPWM method};
\node[ttl, text=mpc] at (373,261) {MPC method};
\node[ttl, text=red] at (372,537) {SVPWM method};
\node[ttl, text=mpc] at (372,725) {MPC method};
\node[ttl, text=red] at (372,994) {SVPWM method};
\node[ttl, text=mpc] at (372,1200) {MPC method};
\node[ttl, text=red] at (1029,55) {SVPWM method};
\node[ttl, text=mpc] at (1029,292) {MPC\ \ method};
\node[ttl, text=red] at (1029,614) {SVPWM method};
\node[ttl, text=mpc] at (1029,792) {MPC method};

% end tick labels, pulled inside the axis span
\tikzset{yl/.style={anchor=east, font=\tk, inner sep=0pt}, xl/.style={font=\tk, inner sep=0pt}}
\node[yl] at (100,44) {30};   \node[yl] at (100,233) {0};
\node[yl] at (100,251) {30};  \node[yl] at (100,438) {0};
\node[yl] at (100,986) {60};  \node[yl] at (100,1174) {-60};
\node[yl] at (100,1193) {60}; \node[yl] at (100,1382) {-60};
\node[yl] at (759,45) {400};  \node[yl] at (759,262) {-400};
\node[yl] at (759,287) {400}; \node[yl] at (759,506) {-400};
\node[yl] at (757,602) {365}; \node[yl] at (757,769) {335};
\node[yl] at (757,783) {365}; \node[yl] at (757,949) {335};
\node[xl] at (118,453) {0.1};  \node[xl] at (623,453) {0.6};
\node[xl] at (107,902) {0.1};  \node[xl] at (622,902) {0.6};
\node[xl] at (114,1395) {0.1}; \node[xl] at (623,1395) {0.6};
\node[xl] at (771,520) {0.1};  \node[xl] at (1278,520) {0.6};
\node[xl] at (777,964) {0.1};  \node[xl] at (1277,964) {0.6};

% A: dashed markers, circles, arrows, delta t
\tikzset{vd/.style={dash pattern=on 5pt off 3pt, line width=0.9pt}}
\foreach \xx in {214,234.4,532.8,566.4} \draw[vd] (\xx,40) -- (\xx,239);
\foreach \xx in {214,234,532.8,563.8} \draw[vd] (\xx,243) -- (\xx,442);
\draw[dash pattern=on 3pt off 2pt, line width=0.5pt] (213.5,171) circle (18);
\draw[dash pattern=on 3pt off 2pt, line width=0.5pt] (214.6,375) circle (18);
\draw[-{Stealth[length=4pt]}, line width=0.5pt] (177,127) -- (200,159);
\draw[-{Stealth[length=4pt]}, line width=0.5pt] (177,330) -- (201,364);
\tikzset{da/.style={{Stealth[length=4pt]}-{Stealth[length=4pt]}, line width=0.8pt}, dt/.style={font=\fontsize{9}{10}\selectfont, inner sep=0pt}}
\draw[da] (214,199) -- (234.4,199);  \draw[da] (532.8,199) -- (566.4,199);
\draw[da] (214,400) -- (234,400);    \draw[da] (532.8,400) -- (563.8,400);
\node[dt, anchor=west] at (246,199) {Δ\textit{t}=0.016s};
\node[dt, anchor=east] at (520,199) {Δ\textit{t}=0.031s};
\node[dt, anchor=west] at (246,400) {Δ\textit{t}=0.016s};
\node[dt, anchor=east] at (514,400) {Δ\textit{t}=0.026s};

% B: circles and arrows
\draw[dash pattern=on 3pt off 2pt, line width=0.5pt] (213,580) circle (18);
\draw[dash pattern=on 3pt off 2pt, line width=0.5pt] (211.7,766) circle (18);
\draw[-{Stealth[length=4pt]}, line width=0.5pt] (231,581) -- (272,595);
\draw[-{Stealth[length=4pt]}, line width=0.5pt] (230,766) -- (270,778);

% C: brackets and leader lines
\tikzset{bd/.style={dash pattern=on 4pt off 2pt, line width=1pt}, bl/.style={line width=1pt}}
\draw[bd] (203,1003) -- (203,1160);
\draw[bl] (203,1003) -- (218,1003) -- (243,1024);
\draw[bl] (203,1160) -- (218,1160) -- (243,1134);
\draw[bd] (545,1003) -- (545,1160);
\draw[bl] (545,1003) -- (526,1003) -- (504,1024);
\draw[bl] (545,1160) -- (526,1160) -- (504,1134);
\draw[bd] (203,1207) -- (203,1363);
\draw[bl] (203,1207) -- (221,1207) -- (243,1227);
\draw[bl] (203,1363) -- (221,1363) -- (243,1337);
\draw[bd] (545,1207) -- (545,1363);
\draw[bl] (545,1207) -- (526,1207) -- (503,1227);
\draw[bl] (545,1363) -- (526,1363) -- (503,1337);

% D: brackets and leader lines
\tikzset{bt/.style={dash pattern=on 4pt off 2pt, line width=0.6pt}, bk/.style={dash pattern=on 5pt off 2pt, line width=1.3pt}}
\draw[bt] (863,52) -- (863,255);  \draw[bk] (880,52) -- (880,255);
\draw[bl] (863,52) -- (880,52) -- (903,95);
\draw[bl] (863,255) -- (880,255) -- (903,223);
\draw[bk] (1184,52) -- (1184,258); \draw[bt] (1203,52) -- (1203,258);
\draw[bl] (1203,52) -- (1184,52) -- (1162,95);
\draw[bl] (1203,258) -- (1184,258) -- (1162,223);
\draw[bt] (861,289) -- (861,497);  \draw[bk] (880,289) -- (880,497);
\draw[bl] (861,289) -- (880,289) -- (902,331);
\draw[bl] (861,497) -- (880,497) -- (902,460);
\draw[bk] (1183,289) -- (1183,497); \draw[bt] (1202,289) -- (1202,497);
\draw[bl] (1202,289) -- (1183,289) -- (1161,331);
\draw[bl] (1202,497) -- (1183,497) -- (1161,460);
\end{scope}
\end{tikzpicture}
\end{document}
